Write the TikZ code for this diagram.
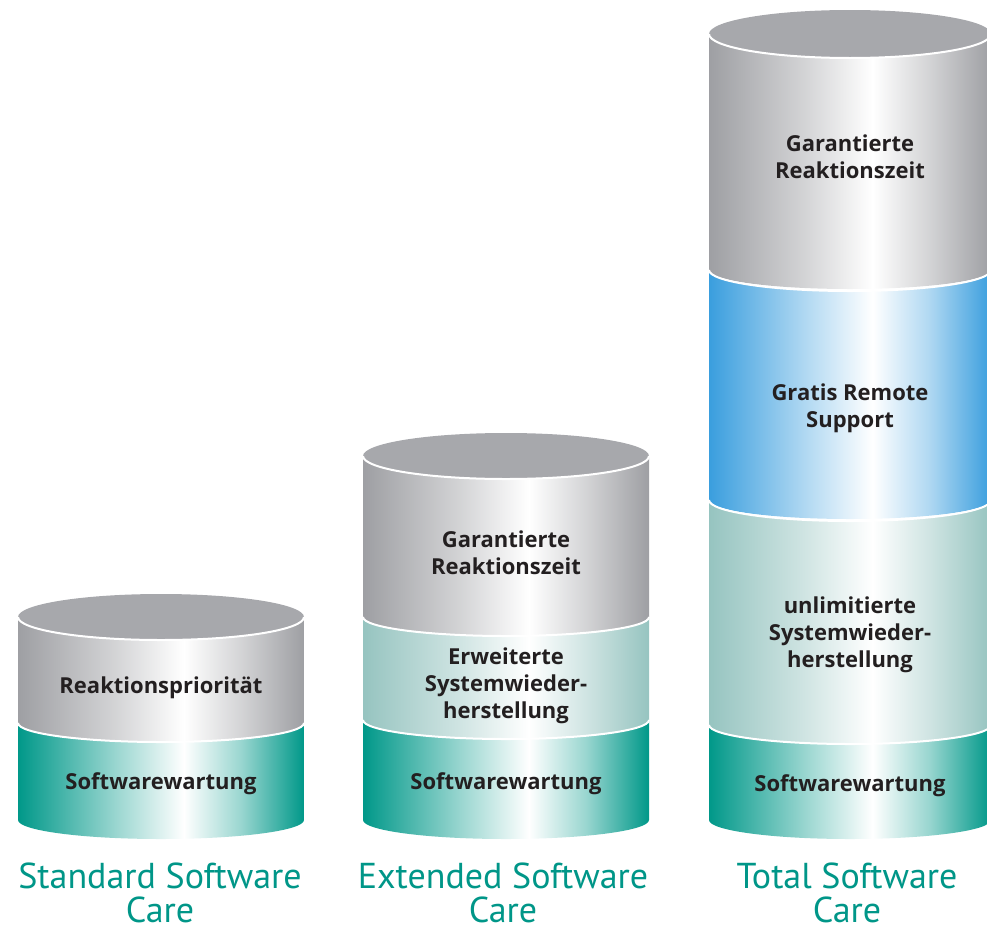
\documentclass[tikz,border=0pt]{standalone}
\usepackage{fontspec}
\setmainfont{Open Sans}
\newfontfamily\titlefont{PT Sans}

\definecolor{cgray}{RGB}{158,159,163}
\definecolor{ctop}{RGB}{167,168,172}
\definecolor{cteal}{RGB}{0,152,137}
\definecolor{clight}{RGB}{150,196,192}
\definecolor{cblue}{RGB}{58,158,222}
\definecolor{ctext}{RGB}{35,31,32}
\definecolor{ctitle}{RGB}{0,150,136}

% horizontal shadings, light band a bit right of the middle
\pgfdeclarehorizontalshading{grayshade}{100bp}{color(0bp)=(cgray); color(25bp)=(cgray); color(42bp)=(cgray!45!white); color(54bp)=(white); color(64bp)=(cgray!45!white); color(75bp)=(cgray); color(100bp)=(cgray)}
\pgfdeclarehorizontalshading{tealshade}{100bp}{color(0bp)=(cteal); color(25bp)=(cteal); color(42bp)=(cteal!40!white); color(54bp)=(white); color(64bp)=(cteal!40!white); color(75bp)=(cteal); color(100bp)=(cteal)}
\pgfdeclarehorizontalshading{lightshade}{100bp}{color(0bp)=(clight); color(25bp)=(clight); color(42bp)=(clight!45!white); color(54bp)=(white); color(64bp)=(clight!45!white); color(75bp)=(clight); color(100bp)=(clight)}
\pgfdeclarehorizontalshading{blueshade}{100bp}{color(0bp)=(cblue); color(25bp)=(cblue); color(42bp)=(cblue!40!white); color(54bp)=(white); color(64bp)=(cblue!40!white); color(75bp)=(cblue); color(100bp)=(cblue)}

% one band of a cylinder: cx, rx, y top, ry top, y bottom, shading
\newcommand\cylpart[6]{%
  \shade[shading=#6] (#1-#2,#3) arc[start angle=180,end angle=0,x radius=#2,y radius=#4]
    -- (#1+#2,#5) arc[start angle=0,end angle=180,x radius=#2,y radius=19] -- cycle;
  \draw[sep] (#1-#2,#3) arc[start angle=180,end angle=0,x radius=#2,y radius=#4];
}

\begin{document}
\begin{tikzpicture}[x=1pt,y=-1pt,
  sep/.style={white,line width=2pt},
  lid/.style={fill=ctop},
  lbl/.style={font=\bfseries\fontsize{22}{27}\selectfont,text=ctext,align=center},
  ttl/.style={font=\titlefont\fontsize{36}{34}\selectfont,text=ctitle,align=center,inner sep=0pt}]

\useasboundingbox (0,0) rectangle (987,929);

%standard software care
\fill[lid] (161,617) ellipse [x radius=143,y radius=23];
\cylpart{161}{143}{617}{23}{723}{grayshade}
\cylpart{161}{143}{723}{19}{820}{tealshade}
\node[lbl] (prio1) at (161,688) {Reaktionspriorität};
\node[lbl] (wart1) at (161,784) {Softwarewartung};
\node[ttl] (std) at (160,893) {Standard Software\\Care};

%extended software care
\fill[lid] (506,456) ellipse [x radius=143,y radius=23];
\cylpart{506}{143}{456}{23}{617}{grayshade}
\cylpart{506}{143}{617}{19}{720}{lightshade}
\cylpart{506}{143}{720}{19}{820}{tealshade}
\node[lbl] (zeit2) at (506,553) {Garantierte\\Reaktionszeit};
\node[lbl] (wied2) at (506,686) {Erweiterte\\Systemwieder-\\herstellung};
\node[lbl] (wart2) at (506,784) {Softwarewartung};
\node[ttl] (ext) at (503,893) {Extended Software\\Care};

%total software care
\fill[lid] (850,34) ellipse [x radius=141,y radius=24];
\cylpart{850}{141}{34}{24}{270}{grayshade}
\cylpart{850}{141}{270}{21}{500}{blueshade}
\cylpart{850}{141}{500}{21}{725}{lightshade}
\cylpart{850}{141}{725}{19}{820}{tealshade}
\node[lbl] (zeit3) at (850,157) {Garantierte\\Reaktionszeit};
\node[lbl] (remote3) at (850,408) {Gratis Remote\\Support};
\node[lbl] (wied3) at (850,635) {unlimitierte\\Systemwieder-\\herstellung};
\node[lbl] (wart3) at (850,786) {Softwarewartung};
\node[ttl] (tot) at (847,893) {Total Software\\Care};

\end{tikzpicture}
\end{document}
